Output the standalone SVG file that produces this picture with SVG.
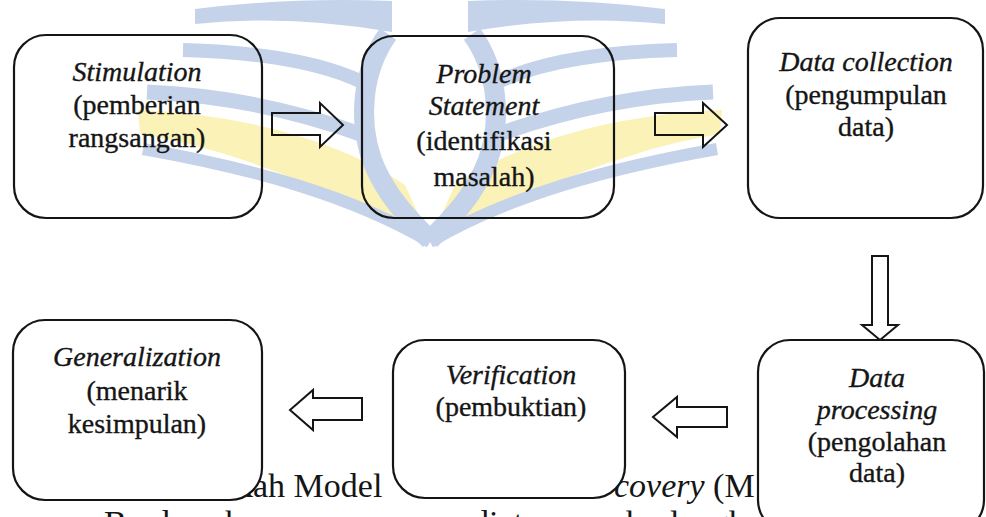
<svg xmlns="http://www.w3.org/2000/svg" width="986" height="517" viewBox="0 0 986 517">
<style>
text{font-family:'Liberation Serif','Times New Roman',serif}
.box{fill:none;stroke:#151515;stroke-width:2.2}
.boxw{fill:#fff;stroke:#151515;stroke-width:2.2}
.arrow{fill:none;stroke:#151515;stroke-width:2;stroke-linejoin:miter}
.t{font-size:28px;fill:#151515;stroke:#151515;stroke-width:0.35;text-anchor:middle}
.i{font-style:italic}
.body{font-size:34px;fill:#151515}
.wb{fill:none;stroke:#c4d2ea}
.wbf{fill:#c4d2ea}
.wy{fill:#fbf2b8}
</style>
<rect x="0" y="0" width="986" height="517" fill="#fff"/>

<g id="watermark">
  <g id="page-left">
    <path class="wbf" d="M195,9 Q290,-3 392,1 L392,32 Q290,14 195,24 Z"/>
    <path class="wb" stroke-width="14" d="M183,50 C260,52 320,62 362,82"/>
    <path class="wb" stroke-width="15" d="M147,92 C220,95 290,108 366,136"/>
    <path class="wy" d="M138,110 C240,114 340,140 405,185 L430,240 C350,202 250,152 140,134 Z"/>
    <path class="wb" stroke-width="12" d="M143,149 C250,168 350,195 430,242"/>
    <path class="wb" stroke-width="20" d="M388,34 C362,70 358,120 372,160 C385,195 410,220 430,240"/>
  </g>
  <g id="page-right" transform="translate(860,0) scale(-1,1)">
    <path class="wbf" d="M195,9 Q290,-3 392,1 L392,32 Q290,14 195,24 Z"/>
    <path class="wb" stroke-width="14" d="M183,50 C260,52 320,62 362,82"/>
    <path class="wb" stroke-width="15" d="M147,92 C220,95 290,108 366,136"/>
    <path class="wy" d="M138,110 C240,114 340,140 405,185 L430,240 C350,202 250,152 140,134 Z"/>
    <path class="wb" stroke-width="12" d="M143,149 C250,168 350,195 430,242"/>
    <path class="wb" stroke-width="20" d="M388,34 C362,70 358,120 372,160 C385,195 410,220 430,240"/>
  </g>
</g>

<g id="page-text">
  <text class="body" x="236" y="497">kah Model</text>
  <text class="body" x="614" y="497"><tspan font-style="italic">covery</tspan> (M</text>
  <text class="body" x="104" y="534">Berdasarkan</text>
  <text class="body" x="300" y="534">pemaparan</text>
  <text class="body" x="472" y="534">diatas</text>
  <text class="body" x="584" y="534">maka</text>
  <text class="body" x="670" y="534">langkah</text>
</g>

<g id="connectors">
  <polygon class="arrow" points="272,113 320,113 320,103 343,125 320,147 320,135 272,135"/>
  <polygon class="arrow" points="655,113 703,113 703,103 727,125 703,147 703,135 655,135"/>
  <polygon class="arrow" points="872,256 888,256 888,325 898,325 880,340 862,325 872,325"/>
  <polygon class="arrow" points="727,407 677,407 677,397 653,417 677,437 677,427 727,427"/>
  <polygon class="arrow" points="362,398 313,398 313,390 290,410 313,430 313,420 362,420"/>
</g>

<g id="node-stimulation">
  <rect class="box" x="14" y="35" width="248" height="183" rx="32"/>
  <text class="t i" x="137" y="81">Stimulation</text>
  <text class="t" x="137" y="114">(pemberian</text>
  <text class="t" x="137" y="147">rangsangan)</text>
</g>

<g id="node-problem">
  <rect class="box" x="362" y="36" width="252" height="182" rx="32"/>
  <text class="t i" x="484" y="83">Problem</text>
  <text class="t i" x="484" y="115">Statement</text>
  <text class="t" x="484" y="150">(identifikasi</text>
  <text class="t" x="484" y="186">masalah)</text>
</g>

<g id="node-collection">
  <rect class="box" x="748" y="18" width="235" height="200" rx="32"/>
  <text class="t i" x="866" y="71">Data collection</text>
  <text class="t" x="866" y="104">(pengumpulan</text>
  <text class="t" x="866" y="136">data)</text>
</g>

<g id="node-processing">
  <rect class="boxw" x="758" y="340" width="226" height="192" rx="32"/>
  <text class="t i" x="877" y="387">Data</text>
  <text class="t i" x="877" y="419">processing</text>
  <text class="t" x="877" y="451">(pengolahan</text>
  <text class="t" x="877" y="482">data)</text>
</g>

<g id="node-verification">
  <rect class="boxw" x="393" y="340" width="232" height="158" rx="32"/>
  <text class="t i" x="511" y="384">Verification</text>
  <text class="t" x="511" y="416">(pembuktian)</text>
</g>

<g id="node-generalization">
  <rect class="boxw" x="13" y="320" width="249" height="180" rx="32"/>
  <text class="t i" x="137" y="366">Generalization</text>
  <text class="t" x="137" y="400">(menarik</text>
  <text class="t" x="137" y="433">kesimpulan)</text>
</g>
</svg>
